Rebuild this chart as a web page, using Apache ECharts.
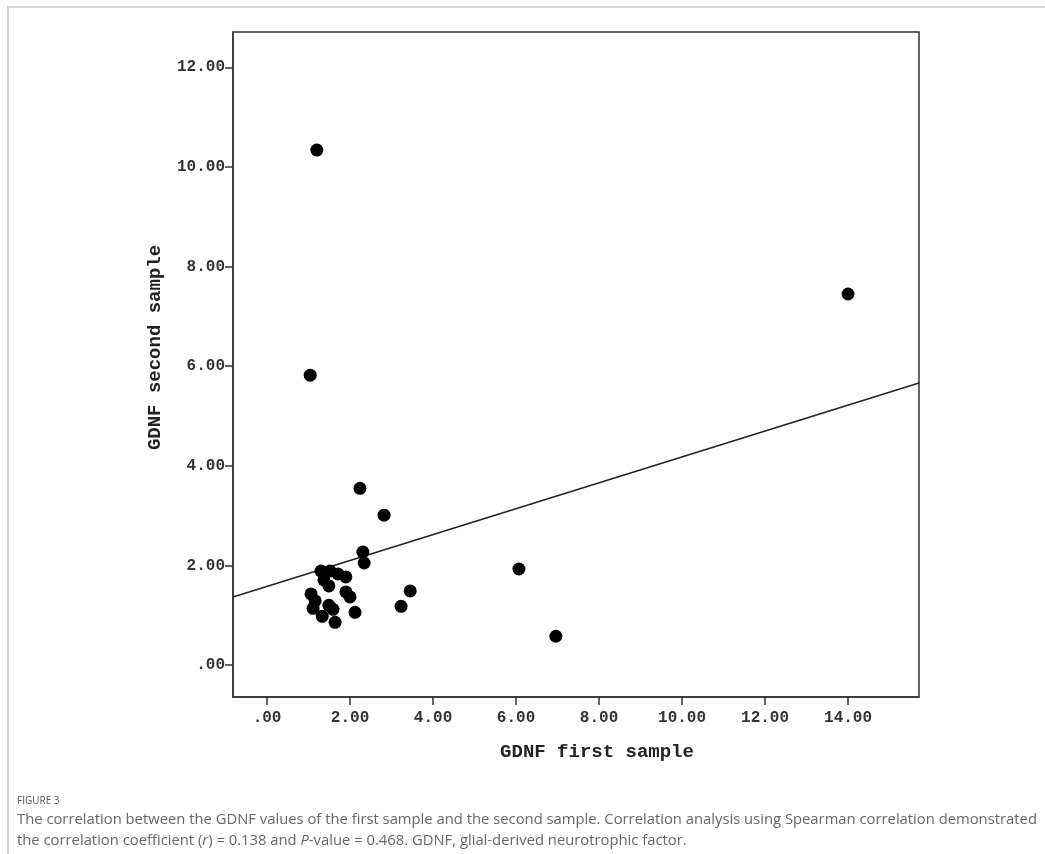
<!DOCTYPE html>
<html>
<head>
<meta charset="utf-8">
<script src="https://cdn.jsdelivr.net/npm/echarts@6/dist/echarts.min.js"></script>
<style>
html,body{margin:0;padding:0;background:#fff;}
#frame{position:absolute;left:7px;top:6px;width:1100px;height:900px;border:2px solid #d4d4d4;box-sizing:border-box;}
#chart{position:absolute;left:0;top:0;width:1045px;height:854px;}
</style>
</head>
<body>
<div id="frame"></div>
<div id="chart"></div>
<script>
// GDNF first sample (x) and second sample (y)
const firstSample = [1.20, 14.00, 1.04, 2.24, 2.82, 2.31, 2.34, 6.07, 6.96, 3.45, 3.23,
  1.30, 1.52, 1.71, 1.90, 1.37, 1.49, 1.06, 1.16, 1.11, 1.33, 1.49, 1.59, 1.90, 2.00, 2.12, 1.64];
const secondSample = [10.34, 7.45, 5.82, 3.55, 3.01, 2.27, 2.05, 1.93, 0.58, 1.49, 1.18,
  1.89, 1.89, 1.83, 1.77, 1.71, 1.59, 1.43, 1.29, 1.14, 0.98, 1.20, 1.12, 1.47, 1.37, 1.06, 0.86];
const xTicks = [0, 2, 4, 6, 8, 10, 12, 14];
const yTicks = [0, 2, 4, 6, 8, 10, 12];
const xRange = [-0.82, 15.71];
const yRange = [-0.64, 12.71];
const fitIntercept = 1.58;
const fitSlope = 0.26;

const points = firstSample.map((x, i) => [x, secondSample[i]]);
const fitLine = xRange.map(x => [x, fitIntercept + fitSlope * x]);
const fmt = v => (Math.abs(v) < 1e-9 ? '.00' : v.toFixed(2));

const chart = echarts.init(document.getElementById('chart'));
const mono = '"Liberation Mono", "DejaVu Sans Mono", monospace';
chart.setOption({
  animation: false,
  backgroundColor: 'transparent',
  grid: {left: 233, top: 32, width: 686, height: 665, show: true, borderColor: '#333', borderWidth: 1.5, backgroundColor: '#fff'},
  xAxis: {
    type: 'value', min: xRange[0], max: xRange[1],
    name: 'GDNF first sample', nameLocation: 'middle', nameGap: 46,
    nameTextStyle: {fontFamily: mono, fontWeight: 'bold', fontSize: 19, color: '#222', padding: [0, 0, 0, 42]},
    axisLine: {show: true, onZero: false, lineStyle: {color: '#333', width: 1.5}},
    axisTick: {show: true, length: 8, customValues: xTicks, lineStyle: {color: '#333', width: 1.5}},
    axisLabel: {customValues: xTicks, formatter: fmt, margin: 13, fontFamily: mono, fontWeight: 'bold', fontSize: 16, color: '#333'},
    splitLine: {show: false}
  },
  yAxis: {
    type: 'value', min: yRange[0], max: yRange[1],
    name: 'GDNF second sample', nameLocation: 'middle', nameGap: 68,
    nameTextStyle: {fontFamily: mono, fontWeight: 'bold', fontSize: 19, color: '#222', padding: [0, 0, 0, 34]},
    axisLine: {show: true, onZero: false, lineStyle: {color: '#333', width: 1.5}},
    axisTick: {show: true, length: 8, customValues: yTicks, lineStyle: {color: '#333', width: 1.5}},
    axisLabel: {customValues: yTicks, formatter: fmt, margin: 8, fontFamily: mono, fontWeight: 'bold', fontSize: 16, color: '#333'},
    splitLine: {show: false}
  },
  series: [
    {type: 'line', data: fitLine, symbol: 'none', lineStyle: {color: '#222', width: 1.5}, silent: true, z: 2},
    {type: 'scatter', data: points, symbol: 'circle', symbolSize: 13, itemStyle: {color: '#000', opacity: 1}, z: 3}
  ],
  graphic: [
    {type: 'text', left: 17, top: 796, style: {text: 'FIGURE 3', font: '10px "Open Sans", sans-serif', fill: '#555'}},
    {type: 'text', left: 17, top: 809, style: {
      text: 'The correlation between the GDNF values of the first sample and the second sample. Correlation analysis using Spearman correlation demonstrated\nthe correlation coefficient ({i|r}) = 0.138 and {i|P}-value = 0.468. GDNF, glial-derived neurotrophic factor.',
      font: '14.8px "Open Sans", sans-serif', fill: '#666', lineHeight: 21,
      rich: {i: {fontStyle: 'italic', fontSize: 14.8, fontFamily: '"Open Sans", sans-serif', fill: '#666'}}
    }}
  ]
});
</script>
</body>
</html>
